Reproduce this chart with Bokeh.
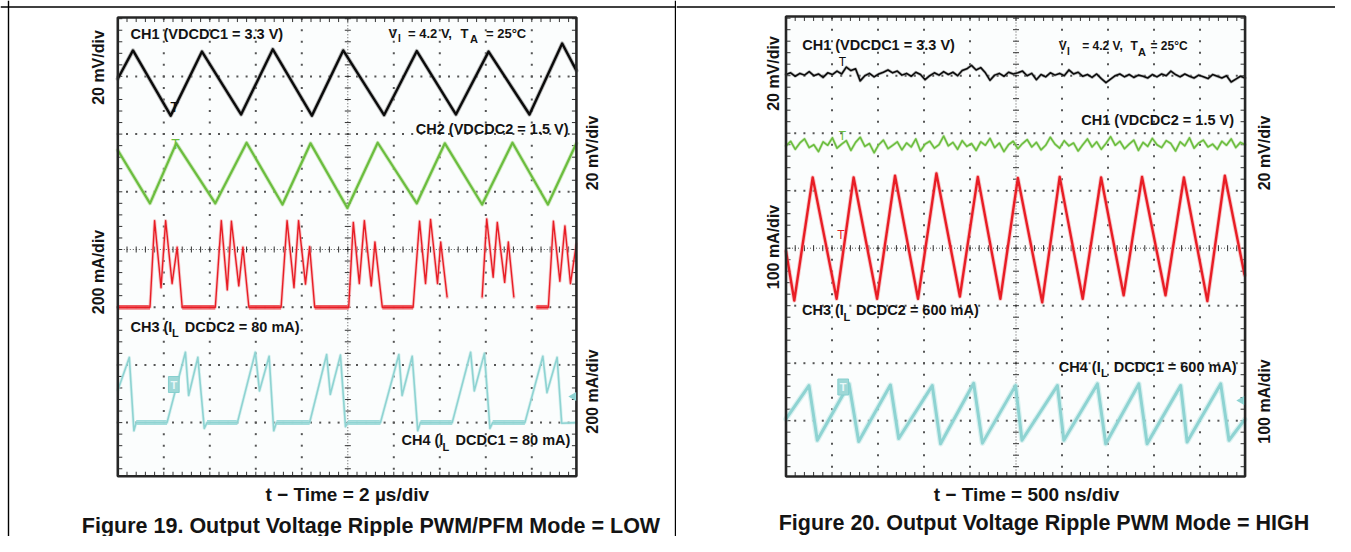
import math
import numpy as np
from bokeh.plotting import figure
from bokeh.models import Range1d, Label, Span
from bokeh.layouts import row
from bokeh.embed import file_html
from bokeh.resources import INLINE

NAN = float("nan")

# ================= DATA (oscilloscope divisions: t = 0..10 div, v = -4..+4 div) =================
# ---- Figure 19: PWM/PFM mode = LOW ----
F19_CH1_T = [0, 0.33, 1.15, 1.83, 2.68, 3.37, 4.22, 4.90, 5.79, 6.50, 7.35, 8.06, 8.95, 9.66, 9.97]
F19_CH1_V = [2.96, 3.45, 2.32, 3.43, 2.34, 3.47, 2.32, 3.45, 2.33, 3.44, 2.34, 3.43, 2.34, 3.57, 3.10]

F19_CH2_T = [0, 0.70, 1.27, 2.12, 2.80, 3.58, 4.19, 4.99, 5.65, 6.50, 7.11, 7.92, 8.58, 9.35, 9.97]
F19_CH2_V = [1.72, 0.80, 1.84, 0.80, 1.85, 0.78, 1.84, 0.72, 1.85, 0.80, 1.84, 0.78, 1.85, 0.78, 1.84]

F19_CH3_T = [0, 0.70, 0.80, 0.94, 1.04, 1.18, 1.29, 1.40,
             2.12, 2.25, 2.38, 2.47, 2.63, 2.72, 2.85,
             3.55, 3.68, 3.83, 3.93, 4.08, 4.17, 4.28,
             5.02, 5.12, 5.25, 5.36, 5.51, 5.59, 5.75,
             6.42, 6.56, 6.69, 6.80, 6.95, 7.02, 7.16, NAN,
             7.92, 8.02, 8.16, 8.25, 8.41, 8.49, 8.61, NAN,
             9.10, 9.36, 9.47, 9.61, 9.72, 9.84, 9.97]
F19_CH3_V = [-1.0, -1.0, 0.50, -0.66, 0.50, -0.59, 0.04, -1.0,
             -1.0, 0.50, -0.70, 0.49, -0.63, 0.04, -1.0,
             -1.0, 0.50, -0.66, 0.50, -0.60, 0.05, -1.0,
             -1.0, 0.47, -0.59, 0.50, -0.63, 0.13, -1.0,
             -1.0, 0.49, -0.59, 0.52, -0.59, 0.13, -0.83, NAN,
             -0.83, 0.53, -0.48, 0.47, -0.57, 0.13, -0.83, NAN,
             -1.0, -1.0, 0.49, -0.55, 0.41, -0.59, 0.10]

F19_CH4_T = [0, 0.25, 0.35, 0.40, 1.07, 1.47, 1.54, 1.74, 1.88, 1.94,
             2.60, 2.99, 3.08, 3.29, 3.39, 3.45, 4.17, 4.54, 4.62, 4.84,
             4.95, 5.00, 5.71, 6.11, 6.18, 6.40, 6.52, 6.58, 7.27, 7.67,
             7.75, 7.97, 8.09, 8.15, 8.85, 9.24, 9.33, 9.55, 9.65, 9.97]
F19_CH4_V = [-2.44, -1.87, -3.14, -3.0, -3.0, -1.78, -2.53, -1.87, -3.10, -3.0,
             -3.0, -1.78, -2.45, -1.85, -3.14, -3.0, -3.0, -1.82, -2.51, -1.83,
             -3.07, -3.0, -3.0, -1.82, -2.53, -1.85, -3.14, -3.0, -3.0, -1.78,
             -2.45, -1.80, -3.10, -3.0, -3.0, -1.85, -2.48, -1.87, -3.01, -3.0]
F19_CH3_BASE = -1.0
F19_CH4_BASE = -3.0

# ---- Figure 20: PWM mode = HIGH ----
F20_CH1_V = [3.02, 3.05, 2.99, 3.04, 3.01, 3.07, 3.00, 3.03, 2.97, 3.05,
             3.02, 3.08, 3.03, 3.15, 3.09, 3.12, 2.91, 3.00, 3.04, 2.98,
             3.03, 3.06, 3.10, 3.05, 3.08, 3.01, 3.04, 2.99, 3.06, 3.02,
             2.93, 3.00, 3.05, 3.01, 3.07, 3.02, 3.06, 3.00, 3.09, 3.12,
             3.18, 3.10, 3.14, 3.05, 2.92, 3.01, 3.04, 2.99, 3.06, 3.03,
             3.05, 3.08, 3.00, 3.04, 2.93, 3.02, 2.98, 3.05, 3.01, 3.04,
             3.00, 3.10, 3.03, 3.06, 2.99, 3.02, 2.97, 3.03, 2.95, 2.88,
             2.94, 3.00, 3.03, 2.98, 3.02, 2.97, 3.01, 2.99, 2.96, 3.02,
             2.98, 3.03, 3.00, 3.08, 3.02, 2.98, 3.03, 2.99, 2.96, 3.01,
             2.98, 2.95, 3.02, 2.99, 2.96, 3.00, 2.89, 2.94, 2.99, 2.96]
F20_CH2_V = [1.78, 1.86, 1.72, 1.83, 1.90, 1.75, 1.80, 1.68, 1.85, 1.79,
             1.92, 1.74, 1.81, 1.87, 1.70, 1.84, 1.93, 1.77, 1.82, 1.66,
             1.80, 1.88, 1.73, 1.79, 1.85, 1.71, 1.83, 1.76, 1.90, 1.69,
             1.81, 1.86, 1.74, 1.80, 1.95, 1.78, 1.84, 1.72, 1.87, 1.77,
             1.82, 1.70, 1.85, 1.79, 1.91, 1.75, 1.83, 1.68, 1.80, 1.86,
             1.73, 1.82, 1.89, 1.76, 1.84, 1.71, 1.79, 1.93, 1.81, 1.74,
             1.87, 1.78, 1.83, 1.69, 1.80, 1.90, 1.76, 1.85, 1.72, 1.82,
             1.94, 1.79, 1.86, 1.73, 1.81, 1.88, 1.70, 1.84, 1.77, 1.91,
             1.80, 1.75, 1.87, 1.82, 1.69, 1.85, 1.78, 1.92, 1.74, 1.83,
             1.88, 1.76, 1.81, 1.72, 1.86, 1.79, 1.90, 1.75, 1.84, 1.80]

F20_CH3_T = [0, 0.18, 0.58, 1.10, 1.47, 1.98, 2.37, 2.87, 3.27, 3.78, 4.17, 4.66,
             5.04, 5.57, 5.95, 6.45, 6.85, 7.34, 7.74, 8.25, 8.65, 9.16, 9.54, 9.97]
F20_CH3_V = [-0.05, -0.91, 1.23, -0.88, 1.23, -0.88, 1.26, -0.88, 1.30, -0.84, 1.24, -0.88,
             1.22, -0.94, 1.24, -0.88, 1.23, -0.82, 1.24, -0.82, 1.23, -0.92, 1.26, -0.47]

F20_CH4_T = [0, 0.50, 0.68, 1.37, 1.58, 2.27, 2.45, 3.18, 3.36, 4.08, 4.27, 4.99,
             5.13, 5.90, 6.04, 6.77, 6.95, 7.67, 7.85, 8.58, 8.72, 9.45, 9.63, 9.97]
F20_CH4_V = [-2.97, -2.39, -3.34, -2.36, -3.36, -2.38, -3.31, -2.39, -3.40, -2.35, -3.39, -2.39,
             -3.34, -2.39, -3.34, -2.36, -3.40, -2.36, -3.40, -2.39, -3.37, -2.36, -3.34, -2.98]

# ---- texts ----
F19_TITLE = "Figure 19. Output Voltage Ripple PWM/PFM Mode = LOW"
F20_TITLE = "Figure 20. Output Voltage Ripple PWM Mode = HIGH"
F19_XLABEL = "t \u2212 Time = 2 \u00b5s/div"
F20_XLABEL = "t \u2212 Time = 500 ns/div"
F19_SCALES = ["20 mV/div", "200 mA/div", "20 mV/div", "200 mA/div"]
F20_SCALES = ["20 mV/div", "100 mA/div", "20 mV/div", "100 mA/div"]
CH1_NAME = "CH1 (VDCDC1 = 3.3 V)"
F19_CH2_NAME = "CH2 (VDCDC2 = 1.5 V)"
F20_CH2_NAME = "CH1 (VDCDC2 = 1.5 V)"
COND_PARTS = ["V", "I", "= 4.2 V,", "T", "A", "= 25\u00b0C"]
F19_CH3_PARTS = ["CH3 (I", "L", "DCDC2 = 80 mA)"]
F19_CH4_PARTS = ["CH4 (I", "L", "DCDC1 = 80 mA)"]
F20_CH3_PARTS = ["CH3 (I", "L", "DCDC2 = 600 mA)"]
F20_CH4_PARTS = ["CH4 (I", "L", "DCDC1 = 600 mA)"]
TRIG = "T"

# ================= STYLE / LAYOUT =================
SX = 46.0          # px per horizontal division
H = 536
TOP = 0
FONT = "Liberation Sans"
TXT = "#141414"
C_BLACK, H_BLACK = "#0b0b0b", "#8a8a8a"
C_GREEN, H_GREEN = "#6bbd3e", "#b3dd98"
C_RED, H_RED = "#e81d25", "#f5a0a3"
C_CYAN, H_CYAN = "#8ed3d2", "#c3e9e8"


def new_fig(X0, W, ox, oy, sy):
    p = figure(width=W, height=H,
               x_range=Range1d((X0 - ox) / SX, (X0 + W - ox) / SX),
               y_range=Range1d((oy - (TOP + H)) / sy, (oy - TOP) / sy),
               x_axis_type=None, y_axis_type=None, toolbar_location=None,
               output_backend="svg", min_border=0)
    p.outline_line_color = None
    p.background_fill_color = "white"
    p.border_fill_color = "white"
    return p


def graticule(p, xr, yt, yb, sy):
    p.quad(left=[0], right=[xr], bottom=[yb], top=[yt], fill_color="#fbfdfd", line_color=None)
    mx = np.round(np.arange(0, xr + 1e-6, 0.2), 3)
    my = np.round(np.arange(-4, 4.0001, 0.2), 3)
    my = my[(my >= yb) & (my <= yt)]
    xs, ys = [], []
    for gy in (-3, -2, -1, 1, 2, 3):
        xs += list(mx); ys += [gy] * len(mx)
    for gx in (1, 2, 3, 4, 6, 7, 8, 9):
        xs += [gx] * len(my); ys += list(my)
    p.scatter(xs, ys, size=2.0, marker="square", fill_color="#555555", line_color=None)
    p.line([0, xr], [0, 0], line_color="#555555", line_width=1, line_dash="1 2")
    p.line([5, 5], [yb, yt], line_color="#555555", line_width=1, line_dash="1 2")
    hy = 3.0 / sy
    hx = 3.0 / SX
    k = dict(line_color="#333333", line_width=1)
    p.segment(x0=mx, y0=-hy, x1=mx, y1=hy, **k)
    p.segment(x0=5 - hx, y0=my, x1=5 + hx, y1=my, **k)
    p.segment(x0=mx, y0=yt, x1=mx, y1=yt - 4.5 / sy, **k)
    p.segment(x0=mx, y0=yb, x1=mx, y1=yb + 4.5 / sy, **k)
    p.segment(x0=0, y0=my, x1=4.5 / SX, y1=my, **k)
    p.segment(x0=xr, y0=my, x1=xr - 4.5 / SX, y1=my, **k)


def border(p, xr, yt, yb):
    p.quad(left=[0], right=[xr], bottom=[yb], top=[yt], fill_color=None,
           line_color="#262626", line_width=2.6)


def trace(p, t, v, core, halo, w, hw):
    p.line(t, v, line_color=halo, line_width=hw, line_alpha=0.6, line_join="round", line_cap="round")
    p.line(t, v, line_color=core, line_width=w, line_join="round")


def flat(p, t, v, level, color, w):
    xs, ys = [], []
    for i in range(len(t) - 1):
        if v[i] == level and v[i + 1] == level:
            xs.append([t[i], t[i + 1]]); ys.append([level, level])
    p.multi_line(xs, ys, line_color=color, line_width=w, line_alpha=0.85)


def make_tools(ox, oy, sy):
    # Y is the vertical centre of the text (page px from top)
    def lab(p, text, X, Y, size, align="left", angle=0.0, weight="bold", color=TXT, **kw):
        p.add_layout(Label(x=(X - ox) / SX, y=(oy - Y) / sy, text=text, text_font=FONT,
                           text_font_style=weight, text_font_size=f"{size}px",
                           text_align=align, text_baseline="middle", angle=angle,
                           text_color=color, **kw))
    return lab


# ---------------- Figure 19 (left) ----------------
OX1, OY1, SY1 = 117.3, 249.0, 57.7
XR1, YT1, YB1 = 9.97, 4.02, -3.93
p1 = new_fig(0, 676, OX1, OY1, SY1)
graticule(p1, XR1, YT1, YB1, SY1)
trace(p1, F19_CH1_T, F19_CH1_V, C_BLACK, H_BLACK, 2.4, 4.2)
trace(p1, F19_CH2_T, F19_CH2_V, C_GREEN, H_GREEN, 2.2, 4.0)
flat(p1, F19_CH3_T, F19_CH3_V, F19_CH3_BASE, C_RED, 4.5)
trace(p1, F19_CH3_T, F19_CH3_V, C_RED, H_RED, 1.4, 3.2)
flat(p1, F19_CH4_T, F19_CH4_V, F19_CH4_BASE, C_CYAN, 5)
trace(p1, F19_CH4_T, F19_CH4_V, C_CYAN, H_CYAN, 1.6, 3.2)
border(p1, XR1, YT1, YB1)
L1 = make_tools(OX1, OY1, SY1)

L1(p1, CH1_NAME, 130, 33.3, 14.5)
for txt, X, Y, s in zip(COND_PARTS, [388, 397.5, 407.5, 460, 469.5, 485.5],
                        [32.8, 38.4, 32.8, 32.8, 38.5, 32.8], [13, 10, 13, 13, 11, 13]):
    L1(p1, txt, X, Y, s)
L1(p1, F19_CH2_NAME, 568, 128.3, 14.5, align="right")
for txt, X, Y, s in zip(F19_CH3_PARTS, [130, 171.5, 184.3], [326.3, 332.5, 326.3], [14.5, 11, 14.5]):
    L1(p1, txt, X, Y, s)
for txt, X, Y, s in zip(F19_CH4_PARTS, [401, 442, 455], [439.8, 446, 439.8], [14.5, 11, 14.5]):
    L1(p1, txt, X, Y, s)
for txt, X, Y in zip(F19_SCALES, [97.6, 97.6, 592, 592], [67, 271.5, 152.5, 391]):
    L1(p1, txt, X, Y, 16, align="center", angle=math.pi / 2)
L1(p1, F19_XLABEL, 346.8, 494.2, 19, align="center")
L1(p1, F19_TITLE, 370.5, 525, 21.5, align="center")
# trigger markers
L1(p1, TRIG, 174, 106, 14, align="center", weight="normal", color=C_BLACK)
L1(p1, TRIG, 175, 143, 14, align="center", weight="normal", color=C_GREEN)
L1(p1, TRIG, 173.3, 384, 11, align="center", weight="bold", color="#e9f7f7",
   background_fill_color="#9fd8d7", border_line_color="#86cfce", padding=2)
p1.scatter([(573 - OX1) / SX], [(OY1 - 396) / SY1], marker="triangle", angle=math.pi / 2,
           size=9, fill_color=C_CYAN, line_color=None)
# outer page frame
p1.add_layout(Span(location=(8.0 - OX1) / SX, dimension="height", line_color="black", line_width=1.4))
p1.add_layout(Span(location=(675.0 - OX1) / SX, dimension="height", line_color="black", line_width=1.4))
p1.add_layout(Span(location=(OY1 - 6.5) / SY1, dimension="width", line_color="black", line_width=1.4))

# ---------------- Figure 20 (right) ----------------
OX2, OY2, SY2 = 785.5, 247.7, 57.5
XR2, YT2, YB2 = 9.98, 4.03, -3.97
p2 = new_fig(676, 659, OX2, OY2, SY2)
graticule(p2, XR2, YT2, YB2, SY2)
t1 = np.linspace(0, XR2, len(F20_CH1_V))
t2 = np.linspace(0, XR2, len(F20_CH2_V))
trace(p2, t1, F20_CH1_V, C_BLACK, H_BLACK, 1.6, 3.0)
trace(p2, t2, F20_CH2_V, C_GREEN, H_GREEN, 1.6, 3.0)
trace(p2, F20_CH3_T, F20_CH3_V, C_RED, H_RED, 2.4, 4.2)
trace(p2, F20_CH4_T, F20_CH4_V, C_CYAN, H_CYAN, 3.0, 5.5)
border(p2, XR2, YT2, YB2)
L2 = make_tools(OX2, OY2, SY2)

L2(p2, CH1_NAME, 801.7, 44.8, 14.5)
for txt, X, Y, s in zip(COND_PARTS, [1058.3, 1066.5, 1081.7, 1130, 1137.5, 1150],
                        [45.7, 51, 45.7, 45.7, 51, 45.7], [12, 10, 12, 12, 11, 12]):
    L2(p2, txt, X, Y, s)
L2(p2, F20_CH2_NAME, 1233.5, 119.8, 14.5, align="right")
for txt, X, Y, s in zip(F20_CH3_PARTS, [801.5, 843, 855.4], [309.8, 316, 309.8], [14.5, 11, 14.5]):
    L2(p2, txt, X, Y, s)
for txt, X, Y, s in zip(F20_CH4_PARTS, [1058.3, 1100.5, 1113.3], [366.5, 372.7, 366.5], [14.5, 11, 14.5]):
    L2(p2, txt, X, Y, s)
for txt, X, Y in zip(F20_SCALES, [773, 773, 1264, 1264], [73, 246.5, 152.5, 401]):
    L2(p2, txt, X, Y, 16, align="center", angle=math.pi / 2)
L2(p2, F20_XLABEL, 1026, 493.5, 19, align="center")
L2(p2, F20_TITLE, 1043.5, 522.5, 21.5, align="center")
L2(p2, TRIG, 842, 61.7, 12, align="center", weight="normal", color=C_BLACK)
L2(p2, TRIG, 842, 135.7, 12, align="center", weight="normal", color=C_GREEN)
L2(p2, TRIG, 840.5, 234.7, 12, align="center", weight="normal", color=C_RED)
L2(p2, TRIG, 842.7, 386.5, 11, align="center", weight="bold", color="#e9f7f7",
   background_fill_color="#9fd8d7", border_line_color="#86cfce", padding=2)
p2.scatter([(1241 - OX2) / SX], [(OY2 - 400) / SY2], marker="triangle", angle=math.pi / 2,
           size=9, fill_color=C_CYAN, line_color=None)
p2.add_layout(Span(location=(OY2 - 6.5) / SY2, dimension="width", line_color="black", line_width=1.4))

layout = row(p1, p2)
open("out.html", "w").write(file_html(layout, INLINE))
